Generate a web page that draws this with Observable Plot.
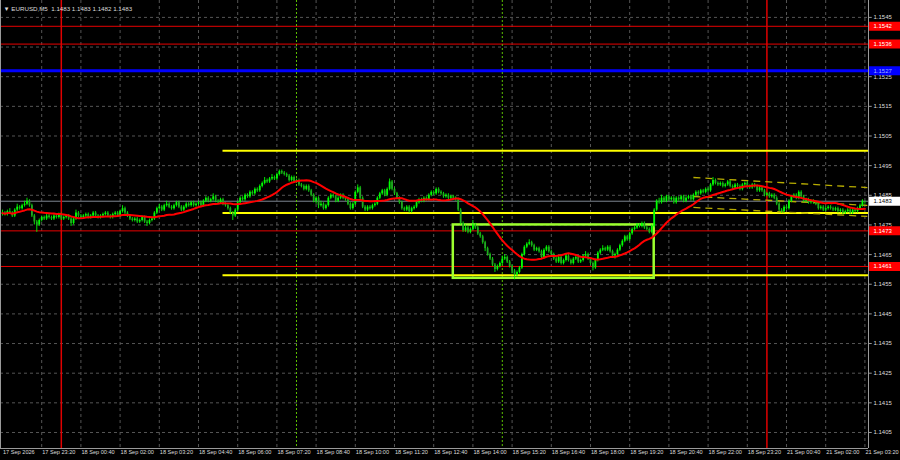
<!DOCTYPE html>
<html><head><meta charset="utf-8">
<script src="https://cdn.jsdelivr.net/npm/d3@7"></script>
<script src="https://cdn.jsdelivr.net/npm/@observablehq/plot@0.6"></script>
<style>
html,body{margin:0;padding:0;background:#000;}
#chart{width:900px;height:460px;overflow:hidden;background:#000}
</style></head><body><div id="chart"></div>
<script>
const symbolTitle = "\u25BC EURUSD,M5  1.1483 1.1483 1.1482 1.1483";
const firstOpen = 1.14785;
const closes = [
1.1479,1.14785,1.14795,1.1479,1.1478,1.148,1.1481,1.14805,1.14815,1.1482,
1.1483,1.14815,1.1478,1.1476,1.1475,1.14765,1.14775,1.1477,1.1478,1.14775,
1.1477,1.1478,1.14775,1.14785,1.1477,1.14775,1.1478,1.1477,1.14755,1.1477,
1.1479,1.1478,1.14775,1.1478,1.14785,1.14775,1.1478,1.1479,1.1478,1.14775,
1.1478,1.14785,1.1479,1.1478,1.14775,1.14785,1.1479,1.1478,1.14795,1.14805,
1.1479,1.1478,1.1477,1.14765,1.1477,1.1476,1.14765,1.14775,1.1476,1.14755,
1.14765,1.1477,1.1479,1.14805,1.1481,1.148,1.14815,1.1482,1.1481,1.14805,
1.14815,1.14825,1.1481,1.148,1.1481,1.1482,1.14815,1.14825,1.14815,1.1482,
1.14825,1.14815,1.1483,1.1484,1.1483,1.14835,1.14845,1.1483,1.14825,1.14835,
1.1482,1.14815,1.14805,1.1479,1.1478,1.148,1.14825,1.1484,1.14835,1.1485,
1.14845,1.1486,1.14855,1.1487,1.14865,1.1488,1.1489,1.149,1.14895,1.14905,
1.1491,1.14905,1.1492,1.1493,1.14925,1.1492,1.14915,1.149,1.1491,1.14895,
1.149,1.14885,1.1488,1.1487,1.1488,1.14865,1.1485,1.1483,1.1484,1.14815,
1.1482,1.14805,1.14815,1.1484,1.1485,1.14845,1.1483,1.1484,1.1485,1.1484,
1.14835,1.1482,1.14805,1.1482,1.1486,1.14875,1.1484,1.1481,1.148,1.1481,
1.14805,1.14815,1.1482,1.1484,1.14855,1.14865,1.1485,1.1487,1.14895,1.1487,
1.14855,1.1484,1.14825,1.14805,1.148,1.1481,1.14795,1.14805,1.1481,1.14825,
1.14835,1.1483,1.1484,1.14835,1.1485,1.1486,1.14855,1.1487,1.1486,1.14855,
1.14845,1.1485,1.1484,1.14845,1.1484,1.14835,1.148,1.14755,1.1473,1.1474,
1.14725,1.14735,1.1475,1.1474,1.1472,1.1471,1.1469,1.1467,1.1465,1.14635,
1.14615,1.146,1.1461,1.1462,1.14635,1.1464,1.14625,1.1461,1.14595,1.1458,
1.1459,1.14605,1.1465,1.14675,1.14685,1.1469,1.1468,1.14665,1.1467,1.1466,
1.1464,1.14665,1.14675,1.1466,1.1465,1.14635,1.14625,1.1464,1.1462,1.1463,
1.14645,1.1463,1.1462,1.14635,1.1464,1.14625,1.1463,1.14645,1.1465,1.14635,
1.1462,1.14605,1.1463,1.14655,1.14665,1.1467,1.14665,1.14675,1.1466,1.14645,
1.1465,1.14665,1.1468,1.14695,1.1471,1.147,1.1472,1.14735,1.1474,1.1475,
1.14745,1.14755,1.1474,1.14735,1.14725,1.14745,1.148,1.1483,1.14825,1.1484,
1.1483,1.14845,1.14835,1.1484,1.14825,1.1484,1.14835,1.14845,1.1483,1.1484,
1.14845,1.14835,1.1485,1.1486,1.14855,1.14865,1.1486,1.1487,1.14865,1.14885,
1.149,1.1489,1.14885,1.1489,1.1488,1.14885,1.14895,1.1488,1.14875,1.14885,
1.1488,1.1487,1.14885,1.1489,1.1488,1.14875,1.14885,1.1488,1.14865,1.14875,
1.14865,1.1485,1.14855,1.14845,1.1485,1.1484,1.1482,1.148,1.14795,1.1481,
1.14805,1.1483,1.14845,1.1485,1.1484,1.1486,1.14845,1.1483,1.14835,1.14825,
1.1483,1.14825,1.1482,1.14805,1.1481,1.148,1.14805,1.1481,1.14805,1.148,
1.14805,1.14795,1.148,1.1479,1.14795,1.148,1.1479,1.148,1.14795,1.14805,
1.14815,1.1483,1.1483];
const highs = [
1.148,1.14795,1.148,1.14805,1.14795,1.14805,1.1482,1.14815,1.1482,1.1483,
1.1484,1.14835,1.1482,1.14785,1.14765,1.1477,1.1478,1.1478,1.14785,1.14785,
1.1478,1.14785,1.14785,1.1479,1.1479,1.1478,1.14785,1.14785,1.14775,1.14775,
1.148,1.14795,1.14785,1.14785,1.1479,1.1479,1.14785,1.14795,1.14795,1.14785,
1.14785,1.1479,1.14795,1.14795,1.14785,1.1479,1.14795,1.14795,1.148,1.14815,
1.1481,1.14795,1.14785,1.14775,1.14775,1.14775,1.1477,1.1478,1.1478,1.14765,
1.1477,1.14775,1.14795,1.1481,1.1482,1.14815,1.1482,1.1483,1.14825,1.14815,
1.1482,1.1483,1.1483,1.14815,1.14815,1.14825,1.14825,1.1483,1.1483,1.14825,
1.1483,1.1483,1.14835,1.14845,1.14845,1.1484,1.14855,1.1485,1.14835,1.1484,
1.1484,1.14825,1.1482,1.1481,1.14795,1.14805,1.1483,1.14845,1.14845,1.14855,
1.14855,1.14865,1.14865,1.14875,1.14875,1.14885,1.14895,1.1491,1.14905,1.1491,
1.1492,1.14915,1.14925,1.14935,1.14935,1.1493,1.14925,1.1492,1.14915,1.14915,
1.14905,1.14905,1.1489,1.14885,1.14885,1.14885,1.1487,1.14855,1.14845,1.14845,
1.1483,1.14825,1.1482,1.14845,1.14855,1.14855,1.1485,1.14845,1.14855,1.14855,
1.14845,1.1484,1.14825,1.14825,1.14865,1.14885,1.1488,1.14845,1.14815,1.14815,
1.14815,1.1482,1.14825,1.14845,1.1486,1.1487,1.1487,1.14875,1.14905,1.149,
1.14875,1.1486,1.14845,1.1483,1.1481,1.14815,1.14815,1.1481,1.14815,1.1483,
1.1484,1.1484,1.14845,1.14845,1.14855,1.14865,1.14865,1.14875,1.14875,1.14865,
1.1486,1.14855,1.14855,1.1485,1.1485,1.14845,1.1484,1.14805,1.1476,1.1475,
1.14745,1.1474,1.14765,1.14755,1.14745,1.14725,1.14715,1.14695,1.14675,1.14655,
1.1464,1.1462,1.14615,1.14625,1.14645,1.1465,1.14645,1.1463,1.14615,1.146,
1.14595,1.1461,1.14655,1.1468,1.1469,1.147,1.14695,1.14685,1.14675,1.14675,
1.14665,1.1467,1.1468,1.1468,1.14665,1.14655,1.1464,1.14645,1.14645,1.14635,
1.1465,1.1465,1.14635,1.1464,1.14645,1.14645,1.14635,1.1465,1.1466,1.14655,
1.1464,1.14625,1.14635,1.1466,1.1467,1.1468,1.14675,1.1468,1.1468,1.14665,
1.14655,1.1467,1.14685,1.147,1.14715,1.14715,1.14725,1.1474,1.14745,1.14755,
1.14755,1.1476,1.1476,1.14745,1.1474,1.1475,1.14805,1.14835,1.1484,1.1485,
1.14845,1.1485,1.1485,1.14845,1.14845,1.14845,1.14845,1.1485,1.1485,1.14845,
1.1485,1.1485,1.14855,1.14865,1.14865,1.1487,1.1487,1.14875,1.14875,1.1489,
1.1491,1.14905,1.14895,1.14895,1.14895,1.1489,1.149,1.149,1.14885,1.1489,
1.1489,1.14885,1.1489,1.14895,1.14895,1.14885,1.1489,1.1489,1.14885,1.1488,
1.1488,1.1487,1.1486,1.1486,1.14855,1.14855,1.14845,1.14825,1.14805,1.14815,
1.14815,1.14835,1.1485,1.14855,1.14855,1.14865,1.14865,1.1485,1.1484,1.1484,
1.14835,1.14835,1.1483,1.14825,1.14815,1.14815,1.1481,1.14815,1.14815,1.1481,
1.1481,1.1481,1.14805,1.14805,1.148,1.14805,1.14805,1.14805,1.14805,1.1481,
1.1482,1.14835,1.1483];
const lows = [
1.1478,1.1478,1.1478,1.14785,1.14775,1.14775,1.14795,1.148,1.148,1.1481,
1.14815,1.1481,1.14775,1.1475,1.14725,1.14745,1.1476,1.14765,1.14765,1.1477,
1.14765,1.14765,1.1477,1.1477,1.14765,1.14765,1.1477,1.14765,1.14745,1.1475,
1.14765,1.14775,1.1477,1.1477,1.14775,1.1477,1.1477,1.14775,1.14775,1.1477,
1.1477,1.14775,1.1478,1.14775,1.1477,1.1477,1.1478,1.14775,1.14775,1.1479,
1.14785,1.14775,1.14765,1.1476,1.1476,1.14755,1.14755,1.1476,1.14755,1.14745,
1.1475,1.1476,1.14765,1.14785,1.148,1.14795,1.14795,1.1481,1.14805,1.148,
1.148,1.1481,1.14805,1.14795,1.14795,1.14805,1.1481,1.1481,1.1481,1.1481,
1.14815,1.1481,1.1481,1.14825,1.14825,1.14825,1.1483,1.14825,1.1482,1.1482,
1.14815,1.1481,1.148,1.14785,1.14765,1.14775,1.14795,1.1482,1.1483,1.1483,
1.1484,1.1484,1.1485,1.1485,1.1486,1.1486,1.14875,1.14885,1.1489,1.1489,
1.149,1.149,1.149,1.14915,1.1492,1.14915,1.1491,1.14895,1.14895,1.1489,
1.1489,1.1488,1.14875,1.14865,1.14865,1.1486,1.14845,1.14825,1.1482,1.14805,
1.1481,1.148,1.148,1.1481,1.14835,1.1484,1.14825,1.14825,1.14835,1.14835,
1.1483,1.14815,1.148,1.148,1.14815,1.14855,1.14835,1.14805,1.14795,1.14795,
1.148,1.148,1.1481,1.14815,1.14835,1.1485,1.14845,1.14845,1.14865,1.14865,
1.1485,1.14835,1.1482,1.148,1.14795,1.14795,1.1479,1.1479,1.148,1.14805,
1.1482,1.14825,1.14825,1.1483,1.1483,1.14845,1.1485,1.1485,1.14855,1.1485,
1.1484,1.1484,1.14835,1.14835,1.14835,1.1483,1.14795,1.1475,1.14725,1.14725,
1.1472,1.1472,1.1473,1.14735,1.14715,1.14705,1.14685,1.1466,1.14645,1.1463,
1.1461,1.1459,1.14595,1.14605,1.14615,1.1463,1.1462,1.14605,1.14585,1.14565,
1.14575,1.14585,1.146,1.14645,1.1467,1.1468,1.14675,1.1466,1.1466,1.14655,
1.14635,1.14635,1.1466,1.14655,1.14645,1.1463,1.1462,1.1462,1.14615,1.14615,
1.14625,1.14625,1.14615,1.14615,1.1463,1.1462,1.1462,1.14625,1.1464,1.1463,
1.14615,1.14595,1.146,1.14625,1.1465,1.1466,1.1466,1.1466,1.14655,1.1464,
1.14635,1.14645,1.1466,1.14675,1.1469,1.14695,1.14695,1.14715,1.1473,1.14735,
1.1474,1.1474,1.14735,1.1473,1.1472,1.1472,1.1474,1.14795,1.1482,1.1482,
1.14825,1.14825,1.1483,1.1483,1.1482,1.1482,1.1483,1.1483,1.14825,1.14825,
1.14835,1.1483,1.1483,1.14845,1.1485,1.1485,1.14855,1.14855,1.1486,1.1486,
1.1488,1.14885,1.1488,1.1488,1.14875,1.14875,1.1488,1.14875,1.1487,1.1487,
1.14875,1.14865,1.14865,1.1488,1.14875,1.1487,1.1487,1.14875,1.1486,1.1486,
1.1486,1.14845,1.14845,1.1484,1.1484,1.14835,1.14815,1.14795,1.1479,1.1479,
1.148,1.148,1.14825,1.1484,1.14835,1.14835,1.1484,1.14825,1.14825,1.1482,
1.1482,1.1482,1.14815,1.148,1.148,1.14795,1.14795,1.148,1.148,1.14795,
1.14795,1.1479,1.1479,1.14785,1.14785,1.1479,1.14785,1.14785,1.1479,1.1479,
1.148,1.1481,1.1482];
const xTickLabels = ["17 Sep 2026","17 Sep 23:20","18 Sep 00:40","18 Sep 02:00","18 Sep 03:20","18 Sep 04:40","18 Sep 06:00","18 Sep 07:20","18 Sep 08:40","18 Sep 10:00","18 Sep 11:20","18 Sep 12:40","18 Sep 14:00","18 Sep 15:20","18 Sep 16:40","18 Sep 18:00","18 Sep 19:20","18 Sep 20:40","18 Sep 22:00","18 Sep 23:20","21 Sep 00:40","21 Sep 02:00","21 Sep 03:20"];
const barsPerLabel = 16;
const yTicks = [1.1405,1.1415,1.1425,1.1435,1.1445,1.1455,1.1465,1.1475,1.1485,1.1495,1.1505,1.1515,1.1525,1.1535,1.1545];
const redLevels = [1.1542, 1.1536, 1.1473, 1.1461];
const blueLevels = [1.1527];
const bidPrice = 1.1483;
const yellowLevels = [1.1500, 1.1479, 1.1458];
const yellowFromBar = 90;
const boxBars = [184, 266];
const boxPrices = [1.1457, 1.1475];
const channelBars = [282, 353];
const channelTop = [1.14910, 1.14876];
const channelMid = [1.14846, 1.14816];
const channelLow = [1.14809, 1.14779];
const dayLines = [24, 312];
const newsLines = [120, 204];
const maPeriod = 20;

const xDomain = [-0.816, 353.47];
const yDomain = [1.13996, 1.15507];
const bars = closes.map((c, i) => ({i, open: i ? closes[i-1] : firstOpen, high: highs[i], low: lows[i], close: c}));
const upCol = "#00ff00", downCol = "#22a622";
const col = d => d.close >= d.open ? upCol : downCol;
const xTicks = xTickLabels.map((_, k) => k * barsPerLabel);
const grid = "#555555";
const font = "Liberation Sans, Arial, sans-serif";
const boxX = [353.9, 367];
const channels = [channelTop, channelMid, channelLow];
const boxLevels = [...redLevels, ...blueLevels, bidPrice];
const tickLabelValues = yTicks.filter(t => !boxLevels.some(l => Math.abs(l - t) < 0.00015));

const chart = Plot.plot({
  width: 900, height: 460,
  marginLeft: 0, marginRight: 32, marginTop: 0, marginBottom: 12,
  x: {type: "linear", domain: xDomain, axis: null},
  y: {domain: yDomain, axis: null},
  style: {background: "#000", fontFamily: font, overflow: "visible"},
  marks: [
    Plot.ruleY(yTicks, {stroke: grid, strokeDasharray: "3,3", strokeWidth: 1}),
    Plot.ruleX(xTicks.slice(1), {stroke: grid, strokeDasharray: "3,3", strokeWidth: 1}),
    Plot.ruleY([bidPrice], {stroke: "#7d8590", strokeWidth: 1}),
    Plot.ruleY(redLevels, {stroke: "#e80000", strokeWidth: 1}),
    Plot.ruleY(blueLevels, {stroke: "#0000ff", strokeWidth: 3}),
    Plot.ruleX(dayLines, {stroke: "#e00000", strokeWidth: 1.5}),
    Plot.ruleX(newsLines, {stroke: "#5cc000", strokeWidth: 1, strokeDasharray: "2,2"}),
    Plot.ruleY(yellowLevels, {x1: yellowFromBar, x2: xDomain[1], stroke: "#ffff00", strokeWidth: 2}),
    Plot.rect([boxPrices], {x1: boxBars[0], x2: boxBars[1], y1: d => d[0], y2: d => d[1], fill: "none", stroke: "#9cff2e", strokeWidth: 2.5}),
    Plot.link(channels, {x1: channelBars[0], x2: channelBars[1], y1: d => d[0], y2: d => d[1], stroke: "#b8ad00", strokeWidth: 1.3, strokeDasharray: "7,5"}),
    Plot.ruleX(bars, {x: "i", y1: "low", y2: "high", stroke: upCol, strokeWidth: 0.9}),
    Plot.ruleX(bars, {x: "i", y1: "open", y2: "close", stroke: col, strokeWidth: 1.8}),
    Plot.lineY(bars, Plot.windowY({k: maPeriod, anchor: "end"}, {x: "i", y: "close", stroke: "#ff0000", strokeWidth: 2})),
    Plot.ruleX([xDomain[0]], {stroke: "#9a9a9a", strokeWidth: 1}),
    Plot.ruleX([xDomain[1]], {stroke: "#9a9a9a", strokeWidth: 1}),
    Plot.ruleY([yDomain[0]], {stroke: "#9a9a9a", strokeWidth: 1}),
    Plot.ruleY(yTicks, {x1: xDomain[1], x2: 355, stroke: "#9a9a9a", strokeWidth: 1}),
    Plot.text(tickLabelValues, {y: d => d, frameAnchor: "right", dx: 5, textAnchor: "start", text: d => d.toFixed(4), fill: "#dcdcdc", fontSize: 6}),
    Plot.text(xTickLabels, {x: (d, k) => k * barsPerLabel, frameAnchor: "bottom", dy: 5.5, dx: 0.5, textAnchor: "start", text: d => d, fill: "#dcdcdc", fontSize: 5.6}),
    Plot.ruleY(redLevels, {x1: boxX[0], x2: boxX[1], stroke: "#ff0000", strokeWidth: 9}),
    Plot.ruleY(blueLevels, {x1: boxX[0], x2: boxX[1], stroke: "#0000ff", strokeWidth: 9}),
    Plot.ruleY([bidPrice], {x1: boxX[0], x2: boxX[1], stroke: "#ffffff", strokeWidth: 9}),
    Plot.text(redLevels, {y: d => d, frameAnchor: "right", dx: 5, textAnchor: "start", text: d => d.toFixed(4), fill: "#ffffff", fontSize: 6}),
    Plot.text(blueLevels, {y: d => d, frameAnchor: "right", dx: 5, textAnchor: "start", text: d => d.toFixed(4), fill: "#9fb4ff", fontSize: 6}),
    Plot.text([bidPrice], {y: d => d, frameAnchor: "right", dx: 5, textAnchor: "start", text: d => d.toFixed(4), fill: "#000000", fontSize: 6}),
    Plot.text([symbolTitle], {frameAnchor: "top-left", dx: 3, dy: 6, textAnchor: "start", text: d => d, fill: "#dcdcdc", fontSize: 6.2})
  ]
});
document.getElementById("chart").appendChild(chart);
</script>
</body></html>
